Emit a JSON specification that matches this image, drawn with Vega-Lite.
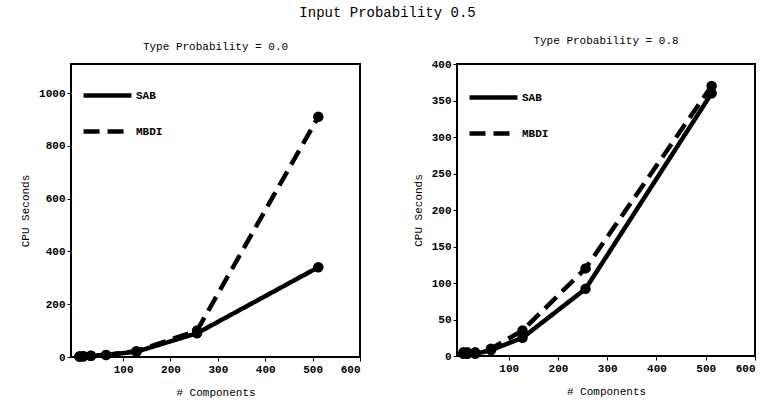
{
  "$schema": "https://vega.github.io/schema/vega-lite/v6.json",
  "background": "white",
  "padding": {"left": 18, "top": 6, "right": 10, "bottom": 5},
  "title": {"text": "Input Probability 0.5", "anchor": "middle", "fontSize": 14, "font": "Liberation Mono", "fontWeight": "normal", "color": "black", "offset": 14},
  "datasets": {
    "p00": [
      {"method": "SAB", "n": 8, "cpu": 2}, {"method": "SAB", "n": 16, "cpu": 3}, {"method": "SAB", "n": 32, "cpu": 5}, {"method": "SAB", "n": 64, "cpu": 8}, {"method": "SAB", "n": 128, "cpu": 20}, {"method": "SAB", "n": 256, "cpu": 90}, {"method": "SAB", "n": 512, "cpu": 340},
      {"method": "MBDI", "n": 8, "cpu": 2}, {"method": "MBDI", "n": 16, "cpu": 3}, {"method": "MBDI", "n": 32, "cpu": 5}, {"method": "MBDI", "n": 64, "cpu": 8}, {"method": "MBDI", "n": 128, "cpu": 22}, {"method": "MBDI", "n": 256, "cpu": 100}, {"method": "MBDI", "n": 512, "cpu": 910}
    ],
    "p08": [
      {"method": "SAB", "n": 8, "cpu": 3}, {"method": "SAB", "n": 16, "cpu": 3}, {"method": "SAB", "n": 32, "cpu": 3}, {"method": "SAB", "n": 64, "cpu": 8}, {"method": "SAB", "n": 128, "cpu": 25}, {"method": "SAB", "n": 256, "cpu": 92}, {"method": "SAB", "n": 512, "cpu": 360},
      {"method": "MBDI", "n": 8, "cpu": 5}, {"method": "MBDI", "n": 16, "cpu": 5}, {"method": "MBDI", "n": 32, "cpu": 5}, {"method": "MBDI", "n": 64, "cpu": 10}, {"method": "MBDI", "n": 128, "cpu": 35}, {"method": "MBDI", "n": 256, "cpu": 120}, {"method": "MBDI", "n": 512, "cpu": 370}
    ]
  },
  "config": {
    "font": "Liberation Mono",
    "view": {"stroke": "black", "strokeWidth": 2},
    "axis": {"grid": false, "domain": false, "tickColor": "black", "tickSize": 4, "labelColor": "black", "labelFont": "Liberation Mono", "labelFontWeight": "bold", "labelFontSize": 11, "labelOverlap": false, "format": "d", "titleFont": "Liberation Mono", "titleFontSize": 11, "titleFontWeight": "normal", "titleColor": "black"},
    "title": {"font": "Liberation Mono", "fontSize": 11, "fontWeight": "normal", "color": "black"}
  },
  "spacing": 49,
  "resolve": {"legend": {"strokeDash": "independent"}},
  "hconcat": [
    {
      "title": {"text": "Type Probability = 0.0", "offset": 12, "frame": "group"},
      "width": 289, "height": 293,
      "data": {"name": "p00"},
      "layer": [
        {
          "mark": {"type": "line", "color": "black", "strokeWidth": 4.5},
          "encoding": {
            "x": {"field": "n", "type": "quantitative", "title": "# Components", "scale": {"domain": [-10, 600], "nice": false, "zero": false}, "axis": {"values": [100, 200, 300, 400, 500, 600], "titlePadding": 12}},
            "y": {"field": "cpu", "type": "quantitative", "title": "CPU Seconds", "scale": {"domain": [0, 1110], "nice": false}, "axis": {"values": [0, 200, 400, 600, 800, 1000], "titlePadding": 8}},
            "strokeDash": {"field": "method", "type": "nominal", "scale": {"domain": ["SAB", "MBDI"], "range": [[1, 0], [16, 8]]},
              "legend": {"title": null, "orient": "none", "legendX": 10, "legendY": 5, "symbolType": "stroke", "symbolSize": 2300, "symbolStrokeWidth": 4.5, "symbolStrokeColor": "black", "labelFont": "Liberation Mono", "labelFontWeight": "bold", "labelFontSize": 11, "labelColor": "black", "rowPadding": -17, "labelOffset": 2}}
          }
        },
        {
          "mark": {"type": "circle", "color": "black", "opacity": 1, "size": 110},
          "encoding": {
            "x": {"field": "n", "type": "quantitative", "axis": {"values": [100, 200, 300, 400, 500, 600], "titlePadding": 12}},
            "y": {"field": "cpu", "type": "quantitative", "axis": {"values": [0, 200, 400, 600, 800, 1000], "titlePadding": 8}}
          }
        }
      ]
    },
    {
      "title": {"text": "Type Probability = 0.8", "offset": 12, "frame": "group"},
      "width": 298, "height": 292,
      "data": {"name": "p08"},
      "layer": [
        {
          "mark": {"type": "line", "color": "black", "strokeWidth": 4.5},
          "encoding": {
            "x": {"field": "n", "type": "quantitative", "title": "# Components", "scale": {"domain": [-5, 600], "nice": false, "zero": false}, "axis": {"values": [100, 200, 300, 400, 500, 600], "titlePadding": 12}},
            "y": {"field": "cpu", "type": "quantitative", "title": "CPU Seconds", "scale": {"domain": [0, 400], "nice": false}, "axis": {"values": [0, 50, 100, 150, 200, 250, 300, 350, 400], "titlePadding": 8, "labelOverlap": false}},
            "strokeDash": {"field": "method", "type": "nominal", "scale": {"domain": ["SAB", "MBDI"], "range": [[1, 0], [16, 8]]},
              "legend": {"title": null, "orient": "none", "legendX": 10, "legendY": 7, "symbolType": "stroke", "symbolSize": 2300, "symbolStrokeWidth": 4.5, "symbolStrokeColor": "black", "labelFont": "Liberation Mono", "labelFontWeight": "bold", "labelFontSize": 11, "labelColor": "black", "rowPadding": -17, "labelOffset": 2}}
          }
        },
        {
          "mark": {"type": "circle", "color": "black", "opacity": 1, "size": 110},
          "encoding": {
            "x": {"field": "n", "type": "quantitative", "axis": {"values": [100, 200, 300, 400, 500, 600], "titlePadding": 12}},
            "y": {"field": "cpu", "type": "quantitative", "axis": {"values": [0, 50, 100, 150, 200, 250, 300, 350, 400], "titlePadding": 8, "labelOverlap": false}}
          }
        }
      ]
    }
  ]
}
